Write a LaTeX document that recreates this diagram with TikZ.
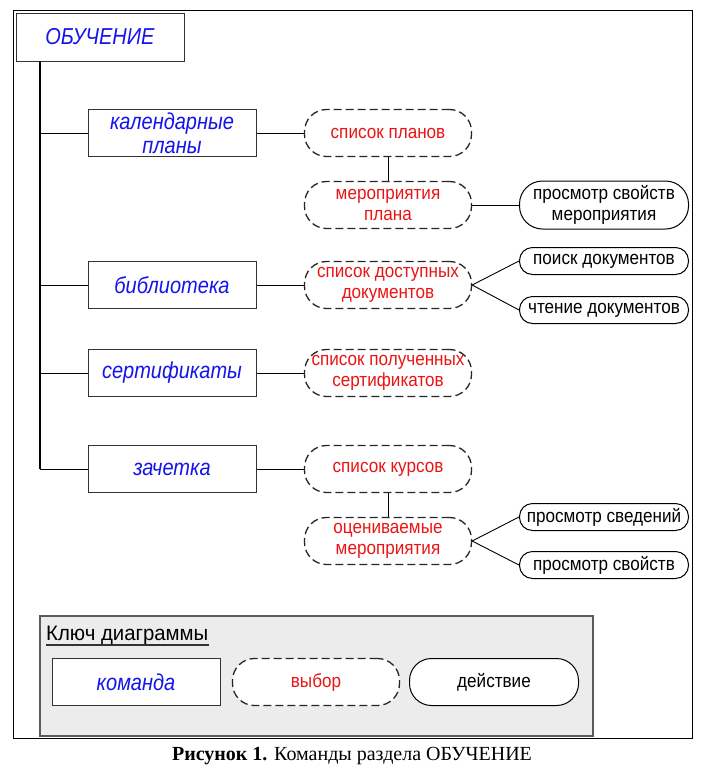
\documentclass[tikz,border=0pt]{standalone}
\usepackage{fontspec}
\setmainfont{Liberation Sans}
\newfontfamily\capfont{Liberation Serif}
\newfontfamily\cmdfont[FakeStretch=0.87]{Liberation Sans}
\newfontfamily\selfont[FakeStretch=0.9]{Liberation Sans}
\newfontfamily\keyfont[FakeStretch=0.97]{Liberation Sans}
\definecolor{cmdblue}{RGB}{20,20,235}
\definecolor{selred}{RGB}{235,20,20}
\definecolor{edge}{RGB}{50,50,50}
\definecolor{keyfill}{RGB}{236,236,236}
\begin{document}
\begin{tikzpicture}[x=1pt,y=-1pt,
  cmd/.style={draw=edge,line width=1pt,fill=white,minimum width=168pt,minimum height=47pt,inner sep=0pt,
    align=center,text=cmdblue,font=\cmdfont\fontsize{23}{23}\selectfont\itshape},
  sel/.style={draw=black!85,line width=1.3pt,dash pattern=on 8pt off 4pt,rounded corners=22pt,fill=white,
    minimum width=167pt,minimum height=47pt,inner sep=0pt,align=center,text=selred,
    font=\selfont\fontsize{19}{20.5}\selectfont},
  act/.style={draw=black,line width=1pt,rounded corners=13pt,fill=white,
    minimum width=169pt,minimum height=27pt,inner sep=0pt,align=center,text=black,
    font=\selfont\fontsize{19}{20.5}\selectfont},
  bigact/.style={act,minimum height=48pt,rounded corners=23pt},
  conn/.style={draw=black,line width=0.9pt}
]
\useasboundingbox (0,0) rectangle (705,772);
% outer frame
\draw[line width=1pt] (13,10) rectangle (692,738);

% root
\node[cmd,minimum width=168pt,minimum height=48pt] (ob) at (100,37) {ОБУЧЕНИЕ};
\coordinate (t0) at (40,61);
\coordinate (t1) at (40,469);
\draw[conn,line width=2pt] (t0) -- (t1);

% commands
\node[cmd] (cal) at (172,133) {календарные\\[1pt]планы};
\node[cmd] (lib) at (172,285) {библиотека};
\node[cmd] (cert) at (172,373) {сертификаты};
\node[cmd] (rec) at (172,469) {зачетка};

% selections
\node[sel] (plans) at (388,133) {список планов};
\node[sel] (ev) at (388,205) {мероприятия\\плана};
\node[sel] (docs) at (388,285) {список доступных\\документов};
\node[sel] (certs) at (388,373) {список полученных\\сертификатов};
\node[sel] (courses) at (388,469) {список курсов};
\node[sel] (graded) at (388,541) {оцениваемые\\мероприятия};

% actions
\node[bigact] (evprop) at (604,205) {просмотр свойств\\мероприятия};
\node[act] (search) at (604,261) {поиск документов};
\node[act] (read) at (604,310) {чтение документов};
\node[act] (info) at (604,517) {просмотр сведений};
\node[act] (prop) at (604,565) {просмотр свойств};

% connectors
\foreach \n in {cal,lib,cert,rec} \draw[conn] (t1 |- \n.west) -- (\n.west);
\draw[conn] (cal.east) -- (plans.west);
\draw[conn] (lib.east) -- (docs.west);
\draw[conn] (cert.east) -- (certs.west);
\draw[conn] (rec.east) -- (courses.west);
\draw[conn] (plans.south) -- (ev.north);
\draw[conn] (courses.south) -- (graded.north);
\draw[conn] (ev.east) -- (evprop.west);
\draw[conn] (docs.east) -- (search.west);
\draw[conn] (docs.east) -- (read.west);
\draw[conn] (graded.east) -- (info.west);
\draw[conn] (graded.east) -- (prop.west);

% key
\node[draw=edge!80,line width=1.2pt,fill=keyfill,minimum width=553pt,minimum height=120pt,inner sep=0pt] (key) at (316.5,676) {};
\node[anchor=base west,inner sep=0pt,font=\keyfont\fontsize{21}{22}\selectfont] (keyt) at (46,640) {Ключ диаграммы};
\draw[line width=2pt,edge] (keyt.base west) ++(0,5) coordinate (u0) -- (u0 -| keyt.east);
\node[cmd] (kcmd) at (136,682) {команда};
\node[sel,fill=white] (ksel) at (316,682) {выбор};
\node[act,minimum height=47pt,rounded corners=22pt] (kact) at (494,682) {действие};

% caption
\node[font=\capfont\fontsize{20}{22}\selectfont] (cap) at (352,756) {\textbf{Рисунок 1.} Команды раздела ОБУЧЕНИЕ};
\end{tikzpicture}
\end{document}
